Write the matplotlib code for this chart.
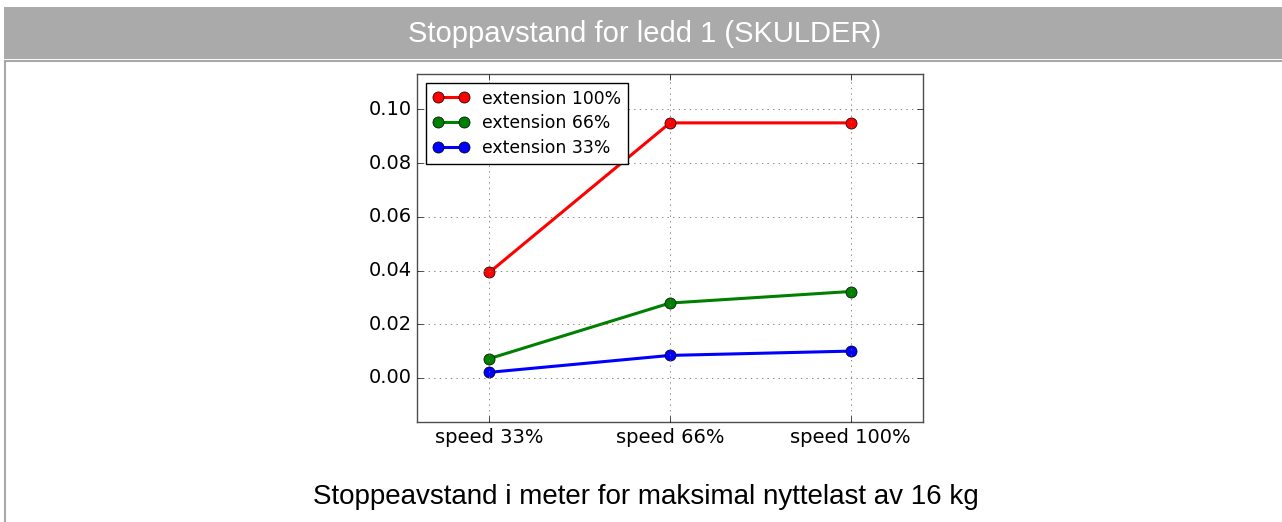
import matplotlib
matplotlib.use("Agg")
import matplotlib.pyplot as plt
from matplotlib.patches import Rectangle
from matplotlib.lines import Line2D
from matplotlib.ticker import FormatStrFormatter

# stopping distance (m), one list per arm extension, ordered by speed
speeds = ["speed 33%", "speed 66%", "speed 100%"]
ext_100 = [0.0393, 0.0950, 0.0950]
ext_66 = [0.0072, 0.0279, 0.0322]
ext_33 = [0.0021, 0.0084, 0.0100]
series_labels = ["extension 100%", "extension 66%", "extension 33%"]
series_colors = ["r", "g", "b"]
y_ticks = [0.00, 0.02, 0.04, 0.06, 0.08, 0.10]

plt.style.use("classic")
W, H = 1282, 522
fig = plt.figure(figsize=(W / 100, H / 100), dpi=100, facecolor="white")

# page header bar and panel frame
fig.patches.append(Rectangle((4 / W, 1 - 59 / H), 1, 52 / H, transform=fig.transFigure,
                             facecolor="#aaaaaa", edgecolor="none"))
fig.lines.append(Line2D([5 / W, 1], [1 - 60.5 / H, 1 - 60.5 / H], transform=fig.transFigure,
                        color="#a8a8a8", lw=1.5))
fig.lines.append(Line2D([5 / W, 5 / W], [0, 1 - 60.5 / H], transform=fig.transFigure,
                        color="#a8a8a8", lw=1.5))
fig.text(645 / W, 1 - 34 / H, "Stoppavstand for ledd 1 (SKULDER)", color="white",
         family="Liberation Sans", fontsize=21, ha="center", va="center")
fig.text(646 / W, 1 - 497 / H, "Stoppeavstand i meter for maksimal nyttelast av 16 kg",
         color="black", family="Liberation Sans", fontsize=20, ha="center", va="center")

ax = fig.add_axes([417 / W, 1 - 422 / H, (923 - 417) / W, (422 - 74) / H])
x = list(range(len(speeds)))
for vals, lab, col in zip([ext_100, ext_66, ext_33], series_labels, series_colors):
    ax.plot(x, vals, "-o", color=col, lw=2.2, markersize=8, mew=0.5, mec="k", label=lab)

ax.set_xlim(-0.4, 2.4)
ax.set_ylim(-0.0164, 0.1132)
ax.set_xticks(x)
ax.set_xticklabels(speeds)
ax.set_yticks(y_ticks)
ax.yaxis.set_major_formatter(FormatStrFormatter("%.2f"))
ax.tick_params(labelsize=14)
ax.grid(True, linestyle=":", color="0.45", lw=0.6)
for s in ax.spines.values():
    s.set_color("0.3")

leg = ax.legend(loc="upper left", fontsize=12.4, numpoints=2, handlelength=2.1,
                fancybox=False, labelspacing=0.4)
leg.get_frame().set_edgecolor("k")

fig.savefig("out.png", dpi=100, facecolor="white")
